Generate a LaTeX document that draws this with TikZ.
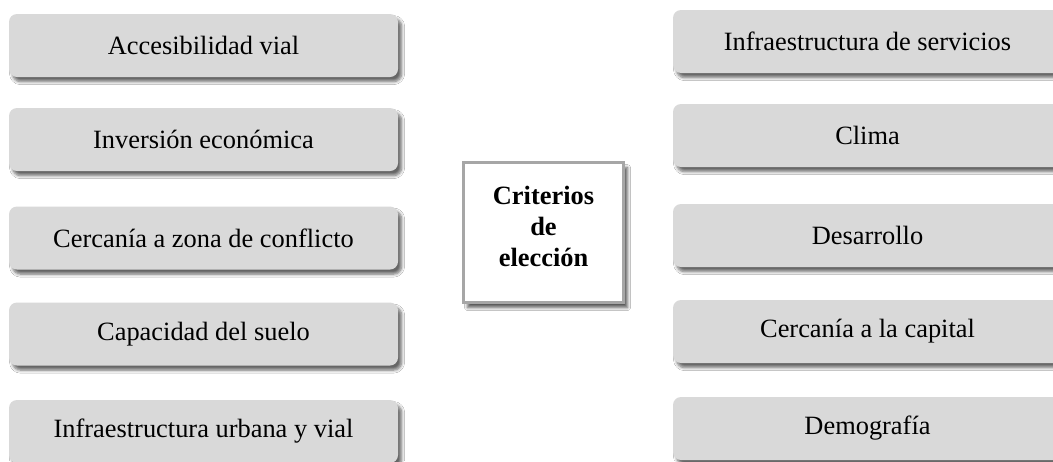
\documentclass[tikz,border=0pt]{standalone}
\usepackage{fontspec}
\setmainfont{Liberation Serif}
\usetikzlibrary{shadows.blur}
\definecolor{boxgray}{HTML}{D9D9D9}
\definecolor{framegray}{HTML}{A6A6A6}
\tikzset{
  critbox/.style={rectangle, rounded corners=4pt, fill=boxgray, draw=none,
    minimum width=194.5pt, minimum height=31.5pt, inner sep=0pt,
    font=\fontsize{13.2}{15.5}\selectfont,
    blur shadow={shadow xshift=1.8pt, shadow yshift=-2.3pt, shadow blur steps=6, shadow opacity=60, shadow blur radius=1.5pt}},
  centerbox/.style={rectangle, fill=white, draw=framegray, line width=1.5pt,
    minimum width=80pt, minimum height=70pt, inner sep=0pt,
    blur shadow={shadow xshift=2pt, shadow yshift=-2.8pt, shadow blur steps=6, shadow opacity=65, shadow blur radius=1.5pt}},
  centertext/.style={align=center, font=\fontsize{13.2}{15.5}\selectfont\bfseries, inner sep=0pt}
}
\begin{document}
\begin{tikzpicture}[x=0.5pt, y=-0.5pt]
\clip (0,0) rectangle (1053,461);
\fill[white] (0,0) rectangle (1053,461);
% left column
\node[critbox] (l1) at (203.5,45.5) {Accesibilidad vial};
\node[critbox] (l2) at (203.5,139.5) {Inversión económica};
\node[critbox] (l3) at (203.5,238) {Cercanía a zona de conflicto};
\node[critbox] (l4) at (203.5,334) {Capacidad del suelo};
\node[critbox] (l5) at (203.5,431.5) {Infraestructura urbana y vial};
% right column
\node[critbox] (r1) at (867.5,41.5) {Infraestructura de servicios};
\node[critbox] (r2) at (867.5,135.5) {Clima};
\node[critbox] (r3) at (867.5,235.5) {Desarrollo};
\node[critbox] (r4) at (867.5,331.5) {Cercanía a la capital};
\node[critbox] (r5) at (867.5,428.5) {Demografía};
% center
\node[centerbox] (c) at (543.5,232) {};
\node[centertext] (ct) at (543.5,226) {Criterios\\de\\elección};
\end{tikzpicture}
\end{document}
